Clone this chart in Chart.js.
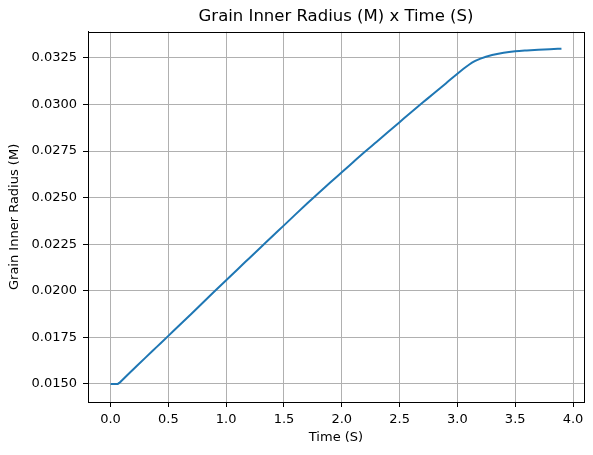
<!DOCTYPE html>
<html>
<head>
<meta charset="utf-8">
<script src="https://cdn.jsdelivr.net/npm/chart.js@4"></script>
<style>
  body { margin: 0; background: #fff; }
</style>
</head>
<body>
<canvas id="radiusChart" width="593" height="455"></canvas>
<script>
// time (s) and grain inner radius (m)
const times = [0.0, 0.06, 0.08, 0.1, 0.2, 0.3, 0.4, 0.5, 0.6, 0.7, 0.8, 0.9,
    1.0, 1.1, 1.2, 1.3, 1.4, 1.5, 1.6, 1.7, 1.8, 1.9,
    2.0, 2.1, 2.2, 2.3, 2.4, 2.5, 2.6, 2.7, 2.8, 2.9,
    3.0, 3.05, 3.1, 3.15, 3.2, 3.3, 3.4, 3.5, 3.6, 3.7, 3.8, 3.9];
const radius = [0.01500, 0.01500, 0.01508, 0.01520, 0.01580, 0.01640, 0.01699, 0.01758, 0.01818, 0.01877, 0.01937, 0.01997,
    0.02056, 0.02116, 0.02175, 0.02234, 0.02293, 0.02351, 0.02410, 0.02468, 0.02525, 0.02581,
    0.02636, 0.02691, 0.02746, 0.02799, 0.02852, 0.02905, 0.02958, 0.03010, 0.03062, 0.03113,
    0.03165, 0.03190, 0.03213, 0.03232, 0.03246, 0.03265, 0.03277, 0.03285, 0.03290, 0.03294, 0.03297, 0.03299];

const xTicks = [0.0, 0.5, 1.0, 1.5, 2.0, 2.5, 3.0, 3.5, 4.0];
const yTicks = [0.0150, 0.0175, 0.0200, 0.0225, 0.0250, 0.0275, 0.0300, 0.0325];

const font = { family: 'DejaVu Sans', size: 13 };

// black frame round the plot area
const frame = {
    id: 'frame',
    afterDraw(chart) {
        const { ctx, chartArea: a } = chart;
        ctx.save();
        ctx.strokeStyle = '#000';
        ctx.lineWidth = 1;
        ctx.strokeRect(Math.round(a.left) + 0.5, Math.round(a.top) + 0.5,
            Math.round(a.right - a.left), Math.round(a.bottom - a.top));
        ctx.restore();
    }
};

const radiusChart = new Chart(document.getElementById('radiusChart'), {
    type: 'line',
    data: {
        datasets: [{
            label: 'Grain Inner Radius',
            data: times.map((t, i) => ({ x: t, y: radius[i] })),
            borderColor: '#1f77b4',
            borderWidth: 2,
            pointRadius: 0,
            cubicInterpolationMode: 'monotone',
            fill: false
        }]
    },
    options: {
        responsive: false,
        animation: false,
        layout: { padding: { left: 0, right: 9, top: 0, bottom: 0 } },
        plugins: {
            legend: { display: false },
            tooltip: { enabled: false },
            title: {
                display: true,
                text: 'Grain Inner Radius (M) x Time (S)',
                color: '#000',
                fullSize: false,
                font: { family: 'DejaVu Sans', size: 16.5, weight: 'normal' },
                padding: { top: 7, bottom: 5 }
            }
        },
        scales: {
            x: {
                type: 'linear',
                min: -0.195,
                max: 4.095,
                afterBuildTicks: s => { s.ticks = xTicks.map(v => ({ value: v })); },
                afterFit: s => { s.height = 53; },
                ticks: {
                    color: '#000',
                    font: font,
                    padding: 5,
                    maxRotation: 0,
                    callback: v => v.toFixed(1)
                },
                grid: { color: '#b0b0b0', tickColor: '#000', tickLength: 5 },
                border: { display: true, color: '#000' },
                title: {
                    display: true,
                    text: 'Time (S)',
                    color: '#000',
                    font: font,
                    padding: { top: 0, bottom: 10 }
                }
            },
            y: {
                type: 'linear',
                min: 0.01403,
                max: 0.0339,
                afterBuildTicks: s => { s.ticks = yTicks.map(v => ({ value: v })); },
                afterFit: s => { s.width = 88; },
                ticks: {
                    color: '#000',
                    font: font,
                    padding: 6,
                    callback: v => v.toFixed(4)
                },
                grid: { color: '#b0b0b0', tickColor: '#000', tickLength: 5 },
                border: { display: true, color: '#000' },
                title: {
                    display: true,
                    text: 'Grain Inner Radius (M)',
                    color: '#000',
                    font: font,
                    padding: { top: 7, bottom: 0 }
                }
            }
        }
    },
    plugins: [frame]
});
</script>
</body>
</html>
